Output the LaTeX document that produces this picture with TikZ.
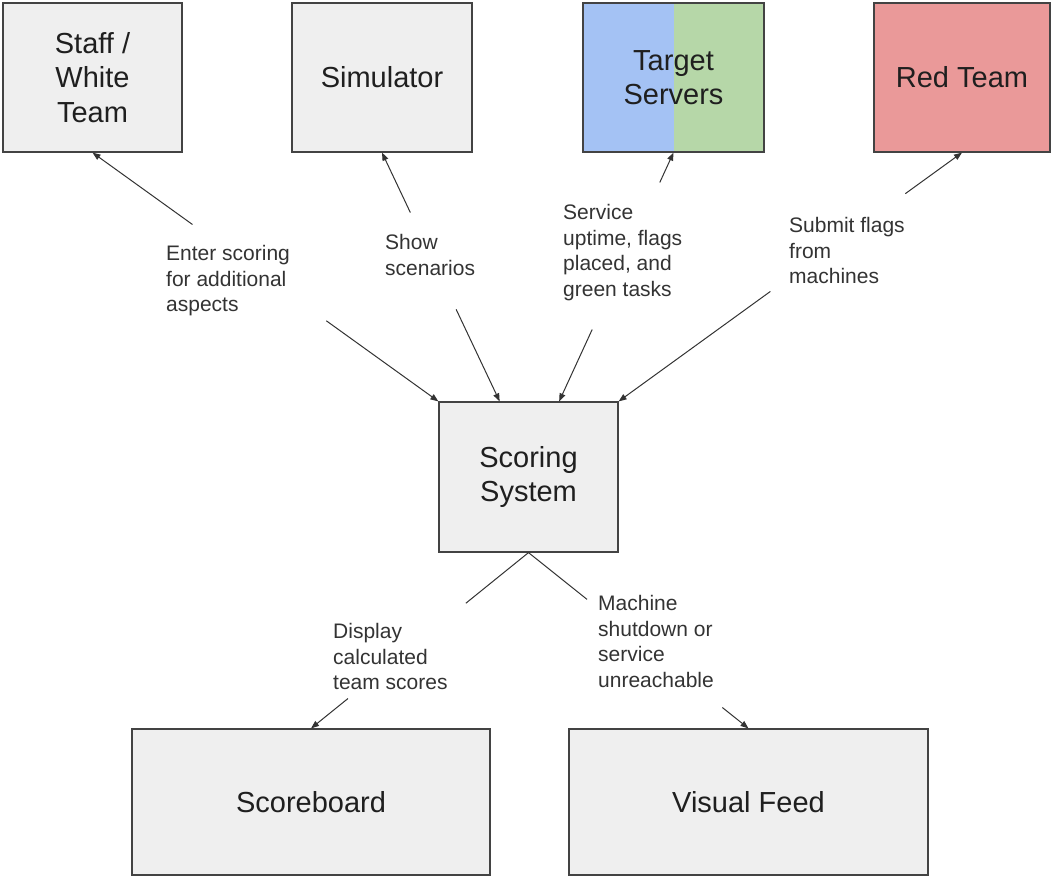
\documentclass[tikz,border=0pt]{standalone}
\usepackage{fontspec}
\setmainfont{Liberation Sans}
\usetikzlibrary{arrows.meta,calc}
\definecolor{boxfill}{HTML}{EFEFEF}
\definecolor{boxline}{HTML}{434343}
\definecolor{linkcol}{HTML}{333333}
\definecolor{tblue}{HTML}{A4C2F4}
\definecolor{tgreen}{HTML}{B6D7A8}
\definecolor{redfill}{HTML}{EA9999}
\definecolor{boxtxt}{HTML}{1F1F1F}
\definecolor{lbltxt}{HTML}{333333}
\begin{document}
\begin{tikzpicture}[x=1pt,y=-1pt,
  blk/.style={draw=boxline, line width=1.2pt, fill=boxfill,
    minimum width=179pt, minimum height=149pt, inner sep=0pt,
    align=center, text=boxtxt, font=\fontsize{29}{34.5}\selectfont},
  lbl/.style={anchor=north west, inner sep=0pt, align=left,
    text=lbltxt, font=\fontsize{21}{25.7}\selectfont},
  link/.style={draw=linkcol, line width=1pt},
  arr/.style={link, -{Triangle[length=8pt,width=6pt]}}]
\useasboundingbox (0,0) rectangle (1052,877);

% sources along the top
\node[blk] (staff) at (92.5,77.5) {Staff /\\White\\Team};
\node[blk, minimum width=180pt] (sim) at (382,77.5) {Simulator};
\node[blk, minimum width=181pt,
  path picture={
    \fill[tblue] (path picture bounding box.north west) rectangle (path picture bounding box.south);
    \fill[tgreen] (path picture bounding box.north) rectangle (path picture bounding box.south east);
  }] (target) at (673.5,77.5) {Target\\Servers};
\node[blk, minimum width=176pt, fill=redfill] (red) at (962,77.5) {Red Team};

% central scoring system
\node[blk, minimum height=150pt] (scoring) at (528.5,477) {Scoring\\System};

% outputs
\node[blk, minimum width=358pt, minimum height=146pt] (board) at (311,802) {Scoreboard};
\node[blk, minimum width=359pt, minimum height=146pt] (feed) at (748.5,802) {Visual Feed};

% connector labels
\node[lbl] (l1) at (166,245) {Enter scoring\\for additional\\aspects};
\node[lbl] (l2) at (385,234) {Show\\scenarios};
\node[lbl] (l3) at (563,204) {Service\\uptime, flags\\placed, and\\green tasks};
\node[lbl] (l4) at (789,217) {Submit flags\\from\\machines};
\node[lbl] (l5) at (333,623) {Display\\calculated\\team scores};
\node[lbl] (l6) at (598,595) {Machine\\shutdown or\\service\\unreachable};

% entry points on top of the scoring box
\coordinate (s2) at ($(scoring.north west)!0.34!(scoring.north east)$);
\coordinate (s3) at ($(scoring.north west)!0.67!(scoring.north east)$);

% gap ends where each line passes behind its label
\coordinate (g1a) at ($(staff.south)!0.289!(scoring.north west)$);
\coordinate (g1b) at ($(staff.south)!0.676!(scoring.north west)$);
\coordinate (g2a) at ($(sim.south)!0.241!(s2)$);
\coordinate (g2b) at ($(sim.south)!0.63!(s2)$);
\coordinate (g3a) at ($(target.south)!0.12!(s3)$);
\coordinate (g3b) at ($(target.south)!0.711!(s3)$);
\coordinate (g4a) at ($(red.south)!0.165!(scoring.north east)$);
\coordinate (g4b) at ($(red.south)!0.558!(scoring.north east)$);
\coordinate (g5a) at ($(scoring.south)!0.288!(board.north)$);
\coordinate (g5b) at ($(scoring.south)!0.83!(board.north)$);
\coordinate (g6a) at ($(scoring.south)!0.266!(feed.north)$);
\coordinate (g6b) at ($(scoring.south)!0.881!(feed.north)$);

% two-way links between the sources and the scoring system
\draw[arr] (g1a) -- (staff.south);
\draw[arr] (g1b) -- (scoring.north west);
\draw[arr] (g2a) -- (sim.south);
\draw[arr] (g2b) -- (s2);
\draw[arr] (g3a) -- (target.south);
\draw[arr] (g3b) -- (s3);
\draw[arr] (g4a) -- (red.south);
\draw[arr] (g4b) -- (scoring.north east);

% links down to the outputs
\draw[link] (scoring.south) -- (g5a);
\draw[arr] (g5b) -- (board.north);
\draw[link] (scoring.south) -- (g6a);
\draw[arr] (g6b) -- (feed.north);
\end{tikzpicture}
\end{document}
